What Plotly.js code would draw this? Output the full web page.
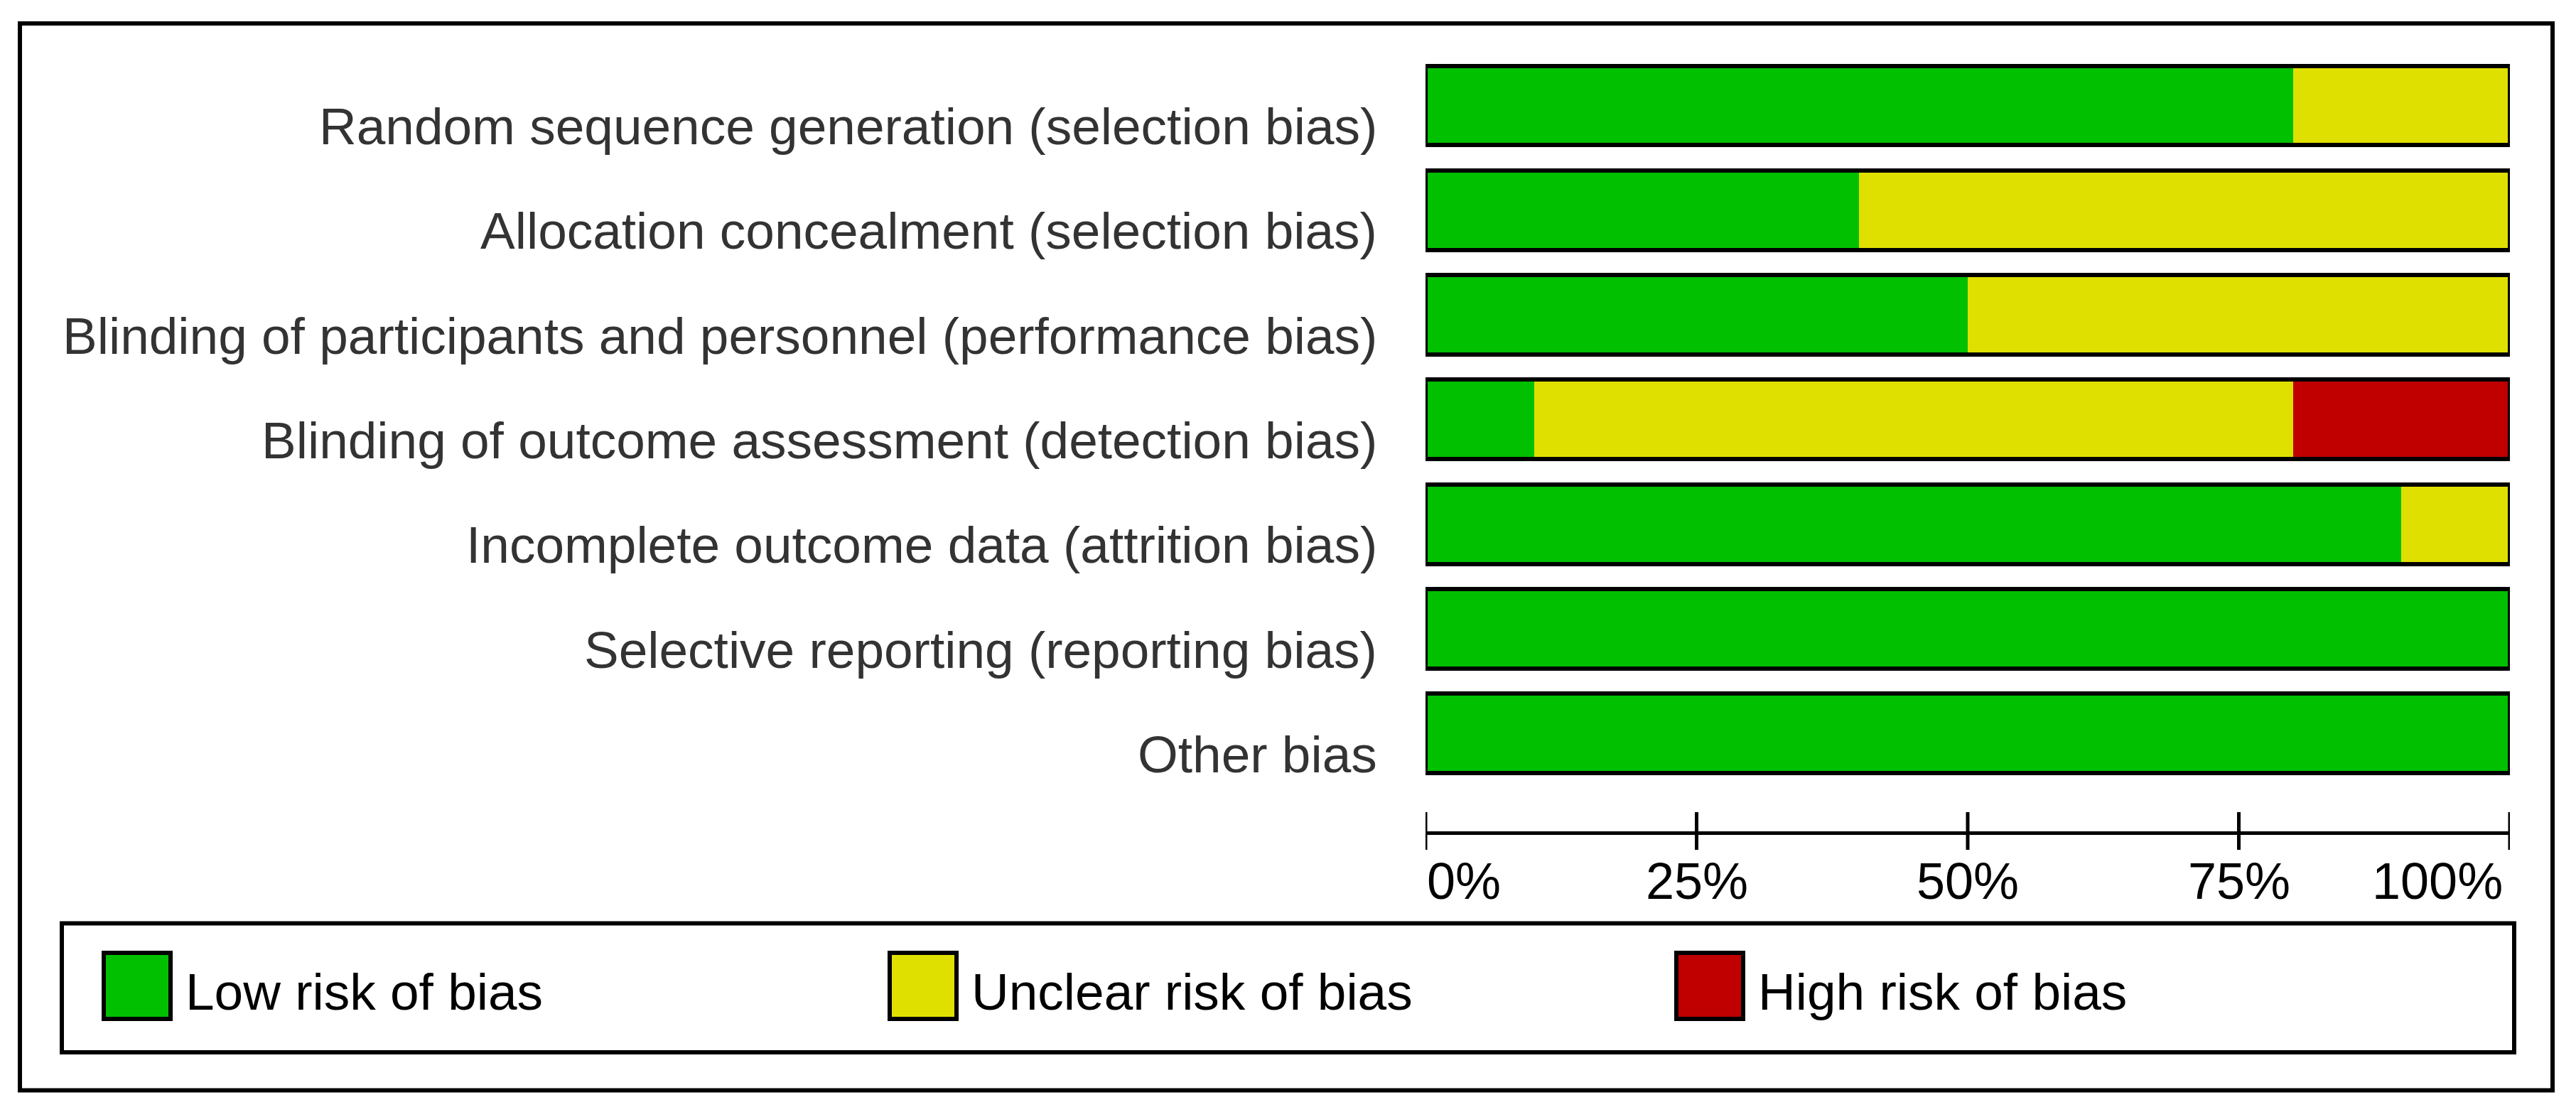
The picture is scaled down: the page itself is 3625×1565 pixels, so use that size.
<!DOCTYPE html>
<html>
<head>
<meta charset="utf-8">
<script src="https://cdn.plot.ly/plotly-3.0.1.min.js"></script>
<style>
  html, body { margin: 0; padding: 0; background: #ffffff; }
  #chart { width: 3625px; height: 1565px; }
</style>
</head>
<body>
<div id="chart"></div>
<script>
// Risk-of-bias domains, top to bottom
const domains = [
  'Random sequence generation (selection bias)',
  'Allocation concealment (selection bias)',
  'Blinding of participants and personnel (performance bias)',
  'Blinding of outcome assessment (detection bias)',
  'Incomplete outcome data (attrition bias)',
  'Selective reporting (reporting bias)',
  'Other bias'
];

// Percentage of studies per judgement
const lowRisk     = [80, 40, 50, 10, 90, 100, 100];
const unclearRisk = [20, 60, 50, 70, 10, 0, 0];
const highRisk    = [0, 0, 0, 20, 0, 0, 0];

const seriesNames  = ['Low risk of bias', 'Unclear risk of bias', 'High risk of bias'];
const seriesColors = ['rgb(0,192,0)', 'rgb(224,224,0)', 'rgb(192,0,0)'];

const tickValues = [0, 25, 50, 75, 100];
const tickLabels = ['0%', '25%', '50%', '75%', '100%'];

// ---- page geometry helpers (pixel -> paper fraction) ----
const W = 3625, H = 1565;
const px = x => x / W;
const py = y => 1 - y / H;

const FONT = '"Liberation Sans", Arial, sans-serif';
const FS = 73;

const seriesValues = [lowRisk, unclearRisk, highRisk];
const totals = domains.map((_, i) => lowRisk[i] + unclearRisk[i] + highRisk[i]);

const traces = seriesValues.map((vals, s) => ({
  type: 'bar',
  orientation: 'h',
  name: seriesNames[s],
  y: domains,
  x: vals,
  marker: { color: seriesColors[s], line: { width: 0 } },
  hoverinfo: 'skip',
  showlegend: false
}));

// black frame drawn around each whole bar
traces.push({
  type: 'bar',
  orientation: 'h',
  y: domains,
  x: totals,
  xaxis: 'x2',
  yaxis: 'y2',
  marker: { color: 'rgba(0,0,0,0)', line: { color: '#000', width: 6 } },
  hoverinfo: 'skip',
  showlegend: false
});

const plotLeft = 2006, plotRight = 3532;
const plotTop = 74.85, axisY = 1169.5;
const pitch = 147.3;
const yRangeTop = -0.5;
const yRangeBottom = -0.5 + (axisY - plotTop) / pitch;

const yBase = {
  type: 'category',
  categoryorder: 'array',
  categoryarray: domains,
  domain: [py(axisY), py(plotTop)],
  range: [yRangeBottom, yRangeTop],
  showgrid: false, zeroline: false, showline: false,
  ticks: '', showticklabels: false, fixedrange: true
};

const shapes = [];
const annotations = [];

// outer frame
shapes.push({ type: 'rect', xref: 'paper', yref: 'paper',
  x0: px(28), x1: px(3592), y0: py(33), y1: py(1534.5),
  line: { color: '#000', width: 6 }, fillcolor: 'rgba(0,0,0,0)', layer: 'above' });

// legend frame
shapes.push({ type: 'rect', xref: 'paper', yref: 'paper',
  x0: px(87), x1: px(3538), y0: py(1299.5), y1: py(1481),
  line: { color: '#000', width: 6 }, fillcolor: 'rgba(0,0,0,0)' });

// tick marks crossing the axis line
tickValues.forEach(v => {
  shapes.push({ type: 'line', xref: 'x', yref: 'paper',
    x0: v, x1: v, y0: py(1143), y1: py(1196),
    line: { color: '#000', width: 5 } });
});

// legend swatches and labels
const swatchLeft = [143, 1249, 2356];
seriesNames.forEach((name, s) => {
  const x0 = swatchLeft[s] + 3;
  shapes.push({ type: 'rect', xref: 'paper', yref: 'paper',
    x0: px(x0), x1: px(x0 + 94), y0: py(1341), y1: py(1434),
    line: { color: '#000', width: 6 }, fillcolor: seriesColors[s] });
  annotations.push({ xref: 'paper', yref: 'paper',
    x: px(swatchLeft[s] + 116), y: py(1395), xanchor: 'left', yanchor: 'middle',
    text: name, showarrow: false,
    font: { family: FONT, size: FS, color: '#000' } });
});

// domain labels
domains.forEach(d => {
  annotations.push({ xref: 'paper', yref: 'y',
    x: px(1940), y: d, xanchor: 'right', yanchor: 'middle', yshift: -29,
    text: d, showarrow: false,
    font: { family: FONT, size: FS, color: '#333333' } });
});

// percentage labels under the axis
tickValues.forEach((v, i) => {
  const last = i === tickValues.length - 1;
  const anchor = i === 0 ? 'left' : (last ? 'right' : 'center');
  annotations.push({ xref: 'x', yref: 'paper',
    x: v, y: py(1198), xanchor: anchor, yanchor: 'top', xshift: last ? -8 : 0,
    text: tickLabels[i], showarrow: false,
    font: { family: FONT, size: 72, color: '#000' } });
});

const layout = {
  width: W, height: H, autosize: false,
  margin: { l: 0, r: 0, t: 0, b: 0, pad: 0 },
  paper_bgcolor: '#ffffff', plot_bgcolor: 'rgba(0,0,0,0)',
  barmode: 'stack', bargap: 0.24,
  font: { family: FONT, size: FS, color: '#000' },
  showlegend: false,
  xaxis: {
    domain: [px(plotLeft), px(plotRight)], range: [0, 100], anchor: 'y',
    showline: true, linecolor: '#000', linewidth: 5,
    ticks: '', showticklabels: false,
    showgrid: false, zeroline: false, fixedrange: true
  },
  xaxis2: {
    domain: [px(plotLeft), px(plotRight)], range: [0, 100], anchor: 'y2', overlaying: 'x',
    showline: false, ticks: '', showticklabels: false,
    showgrid: false, zeroline: false, fixedrange: true
  },
  yaxis: Object.assign({}, yBase, { anchor: 'x' }),
  yaxis2: Object.assign({}, yBase, { anchor: 'x2', overlaying: 'y' }),
  shapes: shapes,
  annotations: annotations
};

Plotly.newPlot('chart', traces, layout, { staticPlot: true, displayModeBar: false });
</script>
</body>
</html>
